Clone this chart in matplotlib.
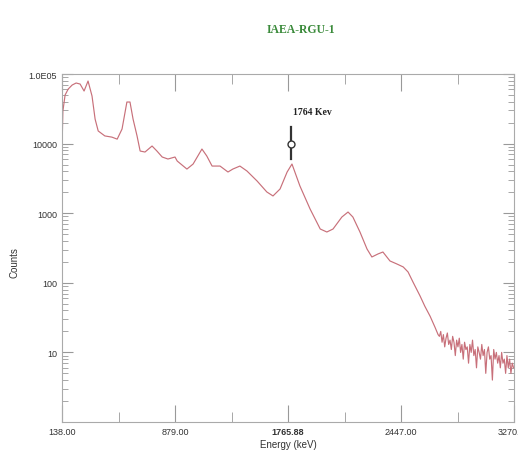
import matplotlib.pyplot as plt

# spectrum: channel (0..1024 across the axis) and counts
channel = [0, 2, 7, 14, 23, 32, 41, 50, 59, 68, 75, 82, 97, 113, 125, 136, 147, 154,
           161, 170, 177, 188, 204, 215, 227, 240, 256, 261, 283, 297, 317, 328, 340,
           358, 376, 387, 403, 419, 442, 464, 478, 494, 510, 521, 539, 562, 585, 600,
           614, 634, 648, 659, 675, 691, 702, 716, 727, 743, 759, 773, 784, 795, 811,
           822, 834, 845, 852]
counts = [8360, 29400, 49900, 60800, 69500, 74300, 71800, 57000, 79300, 48300, 22500,
          15200, 12900, 12400, 11600, 16200, 39600, 39600, 22500, 12900, 7830, 7570,
          9240, 7830, 6420, 6010, 6420, 5620, 4310, 5090, 8360, 6640, 4760, 4760, 3910,
          4310, 4760, 4040, 2900, 2020, 1770, 2230, 3910, 5090, 2460, 1150, 593, 537,
          593, 881, 1040, 881, 537, 306, 235, 260, 277, 206, 186, 169, 143, 103, 65,
          46, 33, 23, 18]

tail_channel = list(range(855, 1024, 3))
tail_counts = [17, 20, 14, 18, 12, 16, 19, 13, 15, 11, 17, 14, 9, 15, 12, 16, 10, 13,
               8, 14, 11, 12, 7, 13, 10, 15, 9, 11, 6, 12, 10, 8, 13, 9, 11, 5, 10, 12,
               8, 9, 4, 11, 8, 10, 7, 9, 6, 10, 7, 8, 5, 9, 6, 8, 5, 7, 6]

tick_pos = [0, 256, 512, 768, 1024]
tick_labels = ["138.00", "879.00", "1765.88", "2447.00", "3270.00"]
y_ticks = [10, 100, 1000, 10000, 100000]
y_labels = ["10", "100", "1000", "10000", "1.0E05"]

peak_ch = 519
peak_label = "1764 Kev"

fig = plt.figure(figsize=(5.18, 4.52), dpi=100)
ax = fig.add_axes([0.1197, 0.0642, 0.8726, 0.7698])

ax.plot(channel + tail_channel, counts + tail_counts, color="#c8707a", lw=0.85)

ax.set_yscale("log")
ax.set_ylim(1, 1e5)
ax.set_xlim(0, 1024)
ax.set_yticks(y_ticks)
ax.set_yticklabels(y_labels)
ax.set_xticks(tick_pos)
ax.set_xticklabels(tick_labels)
ax.set_xticks([128, 384, 640, 896], minor=True)
for lab in ax.get_xticklabels():
    if lab.get_text() == "1765.88":
        lab.set_fontfamily("Liberation Serif")
        lab.set_fontweight("bold")

ax.tick_params(which="both", direction="in", top=True, right=True,
               colors="#999999", labelcolor="#333333", labelsize=6.5,
               labelfontfamily="Liberation Sans")
ax.tick_params(which="major", length=12)
ax.tick_params(which="minor", length=7)
ax.tick_params(axis="y", which="major", length=8)
ax.tick_params(axis="y", which="minor", length=4)
for s in ax.spines.values():
    s.set_color("#aaaaaa")
    s.set_linewidth(0.8)

ax.set_xlabel("Energy (keV)", fontsize=7, family="Liberation Sans", labelpad=2,
              color="#333333")
ax.set_ylabel("Counts", fontsize=7, family="Liberation Sans", color="#333333")
ax.yaxis.set_label_coords(-0.095, 0.46)

# peak marker
ax.plot([peak_ch, peak_ch], [6000, 17300], color="#333333", lw=1.6)
ax.plot([peak_ch], [9860], marker="o", ms=5, mfc="white", mec="#333333", mew=1)
ax.text(peak_ch + 4, 24900, peak_label, fontsize=7, fontweight="bold",
        family="Liberation Serif", color="#222222", va="bottom")

fig.text(0.58, 0.934, "IAEA-RGU-1", ha="center", va="center", fontsize=8.5,
         fontweight="bold", family="Liberation Serif", color="#3a8a3a")

fig.savefig("out.png", dpi=100)
